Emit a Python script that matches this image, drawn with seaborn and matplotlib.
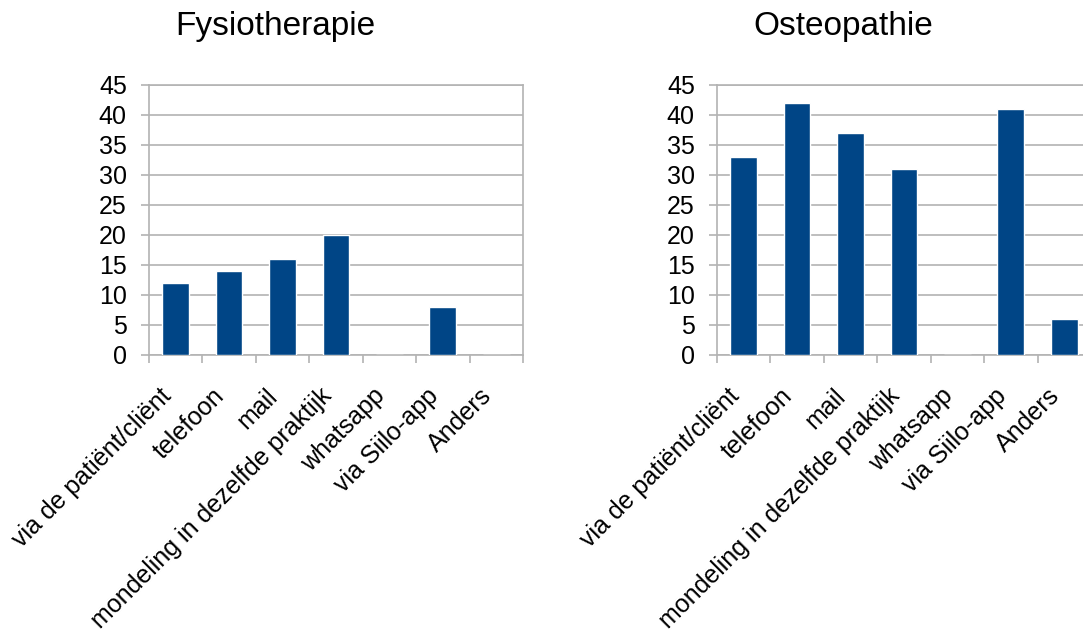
import matplotlib
matplotlib.use("Agg")
import matplotlib.pyplot as plt
import numpy as np
import pandas as pd
import seaborn as sns

# Communication channels and counts per discipline
categories = ["via de patiënt/cliënt", "telefoon", "mail",
              "mondeling in dezelfde praktijk", "whatsapp", "via Siilo-app", "Anders"]
fysio_values = [12, 14, 16, 20, 0, 8, 0]
osteo_values = [33, 42, 37, 31, 0, 41, 6]
y_ticks = [0, 5, 10, 15, 20, 25, 30, 35, 40, 45]
titles = ["Fysiotherapie", "Osteopathie"]

sns.set_theme(style="white")
plt.rcParams["font.family"] = ["Liberation Sans", "DejaVu Sans"]
plt.rcParams["text.color"] = "black"

BAR = "#004586"
GRID = "#b3b3b3"

fig = plt.figure(figsize=(10.83, 6.36), dpi=100)
ax_left = fig.add_axes([149 / 1083, 1 - 355 / 636, 374 / 1083, 270 / 636])
ax_right = fig.add_axes([717 / 1083, 1 - 355 / 636, 374 / 1083, 270 / 636])

for ax, vals, title, tx in [(ax_left, fysio_values, titles[0], 275),
                            (ax_right, osteo_values, titles[1], 843)]:
    df = pd.DataFrame({"kanaal": categories, "aantal": vals})
    sns.barplot(data=df, x="kanaal", y="aantal", color=BAR, width=0.5,
                saturation=1, ax=ax, zorder=3)
    ax.set_xlim(-0.5, len(categories) - 0.5)
    ax.set_ylim(0, 45)
    ax.set_yticks(y_ticks)
    ax.set_xlabel("")
    ax.set_ylabel("")
    ax.yaxis.grid(True, color=GRID, linewidth=1.2, zorder=0)
    ax.xaxis.grid(False)
    for s in ax.spines.values():
        s.set_color(GRID)
        s.set_linewidth(1.2)
    ax.tick_params(axis="y", which="major", direction="out", length=6,
                   width=1.2, color=GRID, pad=10, labelsize=18, labelcolor="black",
                   left=True)
    # Category labels centred on bars, boundary ticks in between
    ax.set_xticks(range(len(categories)))
    ax.set_xticklabels(categories, rotation=45, ha="right", va="bottom",
                       rotation_mode="anchor", fontsize=18, color="black")
    ax.set_xticks(np.arange(-0.5, len(categories)), minor=True)
    ax.tick_params(axis="x", which="major", length=0, pad=33, labelcolor="black")
    ax.tick_params(axis="x", which="minor", direction="out", length=6,
                   width=1.2, color=GRID, bottom=True)
    fig.text(tx / 1083, 1 - 27 / 636, title, ha="center", va="center",
             fontsize=24, color="black")

fig.savefig("out.png", dpi=100)
